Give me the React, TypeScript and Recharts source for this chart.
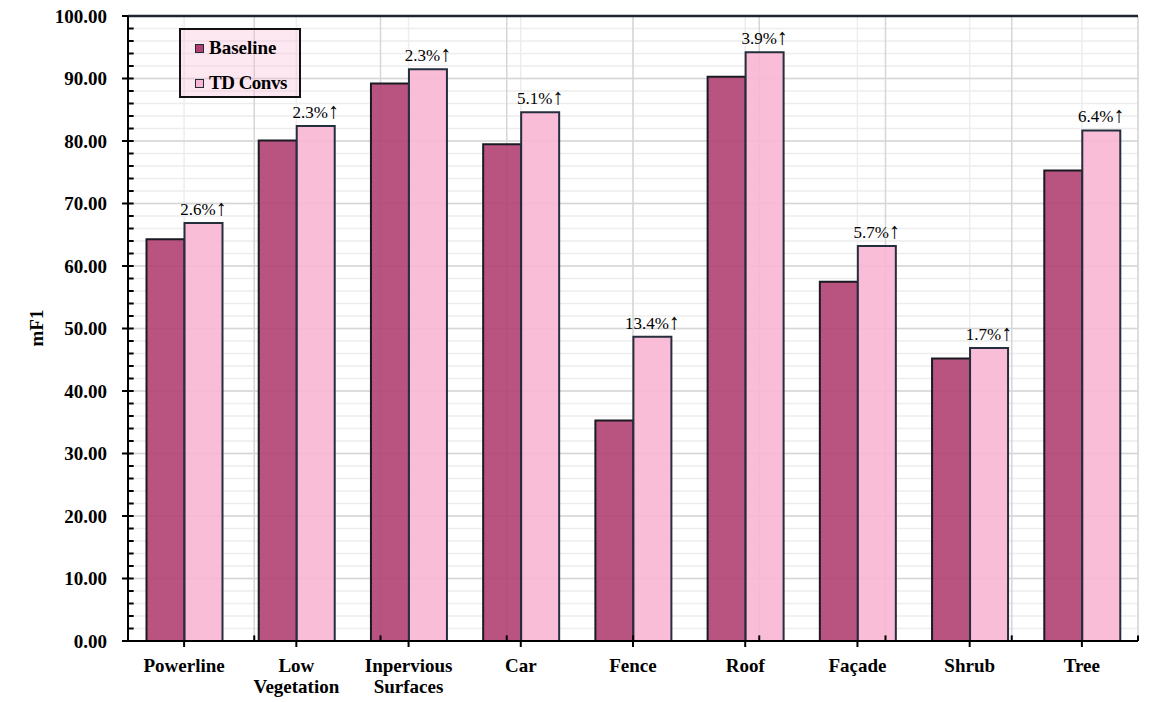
import React from "react";
import {
  BarChart,
  Bar,
  XAxis,
  YAxis,
  CartesianGrid,
  ReferenceLine,
  LabelList,
} from "recharts";

const categories = [
  "Powerline",
  "Low\nVegetation",
  "Inpervious\nSurfaces",
  "Car",
  "Fence",
  "Roof",
  "Façade",
  "Shrub",
  "Tree",
];
const baselineValues = [64.3, 80.1, 89.2, 79.5, 35.3, 90.3, 57.5, 45.2, 75.3];
const tdConvsValues = [66.9, 82.4, 91.5, 84.6, 48.7, 94.2, 63.2, 46.9, 81.7];
const improvements = ["2.6", "2.3", "2.3", "5.1", "13.4", "3.9", "5.7", "1.7", "6.4"];
const yTicks = [0, 10, 20, 30, 40, 50, 60, 70, 80, 90, 100];
const minorY = Array.from({ length: 51 }, (_, i) => i * 2);
const catBounds = [1, 2, 3, 4, 5, 6, 7, 8];

const seriesNames = ["Baseline", "TD Convs"];
const colors = { baseline: "#B14071", td: "#F8B6D3" };
const FONT = "'Liberation Serif', 'Times New Roman', serif";

const data = categories.map((c, i) => ({
  name: c,
  baseline: baselineValues[i],
  td: tdConvsValues[i],
  imp: improvements[i],
}));

const XTick = (props: any) => {
  const { x, y, payload } = props;
  const lines = String(payload.value).split("\n");
  return (
    <text
      x={x}
      y={y}
      textAnchor="middle"
      fontFamily={FONT}
      fontWeight="bold"
      fontSize={19}
      fill="#000"
    >
      {lines.map((l, i) => (
        <tspan key={i} x={x} dy={i === 0 ? 23 : 21}>
          {l}
        </tspan>
      ))}
    </text>
  );
};

const YLabel = () => (
  <text
    x={43}
    y={328}
    transform="rotate(-90, 43, 328)"
    textAnchor="middle"
    fontFamily={FONT}
    fontWeight="bold"
    fontSize={19}
    fill="#000"
  >
    mF1
  </text>
);

const ImpLabel = (props: any) => {
  const { x, y, width, value } = props;
  const cx = Number(x) + Number(width) / 2;
  return (
    <text
      x={cx}
      y={Number(y) - 8}
      textAnchor="middle"
      fontFamily={FONT}
      fontSize={17}
      fill="#000"
    >
      {`${value}%`}
      <tspan fontSize={22}>↑</tspan>
    </text>
  );
};

export default function App() {
  return (
    <div
      style={{
        position: "absolute",
        left: 0,
        top: 0,
        width: 1162,
        height: 702,
        background: "#fff",
        fontFamily: FONT,
      }}
    >
      <BarChart
        width={1162}
        height={702}
        data={data}
        margin={{ top: 16, right: 24, bottom: 11, left: 10 }}
        barCategoryGap={18.5}
        barGap={0}
      >
        <CartesianGrid
          vertical={false}
          horizontalValues={minorY}
          stroke="#EDEDED"
          strokeWidth={1.5}
        />
        <CartesianGrid
          horizontal={false}
          stroke="#EDEDED"
          strokeWidth={1.5}
        />
        <CartesianGrid
          vertical={false}
          horizontalValues={yTicks}
          stroke="#D6D6D6"
          strokeWidth={1.5}
        />
        <CartesianGrid
          horizontal={false}
          xAxisId="num"
          verticalValues={catBounds}
          stroke="#D6D6D6"
          strokeWidth={1.5}
        />
        <XAxis
          dataKey="name"
          interval={0}
          height={50}
          tick={<XTick />}
          tickSize={6}
          axisLine={{ stroke: "#000", strokeWidth: 2 }}
          tickLine={{ stroke: "#000", strokeWidth: 2 }}
        />
        <XAxis xAxisId="num" type="number" domain={[0, 9]} hide />
        <YAxis
          width={118}
          domain={[0, 100]}
          ticks={yTicks}
          interval={0}
          tickFormatter={(v: number) => v.toFixed(2)}
          tickSize={6}
          tickMargin={15}
          tick={{
            fontFamily: FONT,
            fontWeight: "bold",
            fontSize: 19,
            fill: "#000",
          }}
          axisLine={{ stroke: "#000", strokeWidth: 2 }}
          tickLine={{ stroke: "#000", strokeWidth: 2 }}
          label={<YLabel />}
        />
        <Bar
          dataKey="baseline"
          name={seriesNames[0]}
          fill={colors.baseline}
          fillOpacity={0.9}
          stroke="#1a1a22"
          strokeWidth={2}
          isAnimationActive={false}
        />
        <Bar
          dataKey="td"
          name={seriesNames[1]}
          fill={colors.td}
          fillOpacity={0.9}
          stroke="#252e3c"
          strokeWidth={2}
          isAnimationActive={false}
        >
          <LabelList dataKey="imp" content={<ImpLabel />} />
        </Bar>
        {minorY
          .filter((v) => v > 0 && v < 100)
          .map((v) => (
            <ReferenceLine
              key={"ym" + v}
              xAxisId="num"
              segment={[
                { x: 0, y: v },
                { x: 0.045, y: v },
              ]}
              stroke="#000"
              strokeWidth={2}
              ifOverflow="visible"
            />
          ))}
        {catBounds.map((b) => (
          <ReferenceLine
            key={"xm" + b}
            xAxisId="num"
            segment={[
              { x: b, y: 0 },
              { x: b, y: 0.9 },
            ]}
            stroke="#000"
            strokeWidth={2}
            ifOverflow="visible"
          />
        ))}
        <ReferenceLine
          xAxisId="num"
          segment={[
            { x: 9, y: 0 },
            { x: 9, y: -1 },
          ]}
          stroke="#000"
          strokeWidth={2}
          ifOverflow="visible"
        />
        <ReferenceLine y={100} stroke="#1e2430" strokeWidth={2.5} />
        <ReferenceLine xAxisId="num" x={9} stroke="#1e2430" strokeWidth={2.5} />
      </BarChart>
      <div
        style={{
          position: "absolute",
          left: 179,
          top: 28,
          width: 118,
          height: 66,
          border: "2px solid #111",
          background: "rgba(249,190,215,0.35)",
        }}
      >
        {seriesNames.map((n, i) => (
          <div
            key={n}
            style={{
              position: "absolute",
              left: 14,
              top: i === 0 ? 7 : 42,
              height: 22,
              display: "flex",
              alignItems: "center",
              whiteSpace: "nowrap",
            }}
          >
            <span
              style={{
                display: "inline-block",
                width: 7,
                height: 7,
                border: "1.5px solid #222a36",
                background: i === 0 ? colors.baseline : colors.td,
                marginRight: 5,
              }}
            />
            <span
              style={{
                fontFamily: FONT,
                fontWeight: "bold",
                fontSize: 19,
                letterSpacing: i === 1 ? -0.5 : 0,
                color: "#000",
              }}
            >
              {n}
            </span>
          </div>
        ))}
      </div>
    </div>
  );
}
